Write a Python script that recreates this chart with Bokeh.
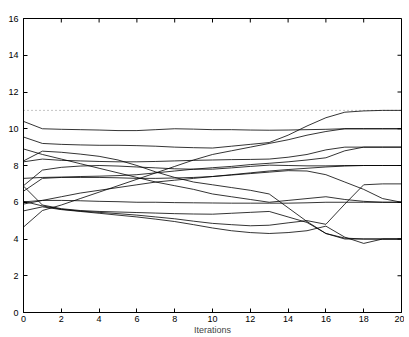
import math
from bokeh.plotting import figure
from bokeh.models import Range1d, FixedTicker
from bokeh.embed import file_html
from bokeh.resources import INLINE

iterations = list(range(21))

series_a = [10.4, 10.0, 9.97, 9.95, 9.93, 9.9, 9.9, 9.95, 10.0, 9.98, 9.95, 9.95, 9.93, 9.92, 9.93, 9.95, 9.97, 10.0, 10.0, 10.0, 10.0]
series_b = [9.55, 9.2, 9.15, 9.12, 9.1, 9.1, 9.08, 9.05, 9.0, 8.97, 8.95, 9.05, 9.15, 9.25, 9.65, 10.15, 10.6, 10.9, 10.97, 11.0, 11.0]
series_c = [8.9, 8.6, 8.35, 8.1, 7.85, 7.6, 7.35, 7.1, 6.9, 6.7, 6.45, 6.3, 6.15, 6.0, 6.1, 6.2, 6.3, 6.15, 6.05, 6.0, 6.0]
series_d = [8.25, 8.78, 8.72, 8.62, 8.5, 8.3, 8.0, 7.65, 7.35, 7.1, 6.95, 6.8, 6.65, 6.45, 5.7, 4.95, 4.3, 4.0, 4.0, 4.0, 4.0]
series_e = [8.2, 8.35, 8.28, 8.25, 8.22, 8.2, 8.2, 8.22, 8.25, 8.28, 8.3, 8.32, 8.33, 8.35, 8.45, 8.6, 8.85, 9.0, 9.0, 9.0, 9.0]
series_f = [7.3, 7.35, 7.37, 7.4, 7.42, 7.45, 7.5, 7.6, 7.7, 7.8, 7.88, 7.95, 8.05, 8.12, 8.2, 8.3, 8.42, 8.8, 9.0, 9.0, 9.0]
series_g = [6.9, 7.75, 7.9, 7.97, 8.0, 7.97, 7.92, 7.87, 7.82, 7.8, 7.8, 7.87, 7.95, 8.02, 8.0, 7.98, 7.98, 8.0, 8.0, 8.0, 8.0]
series_i = [6.6, 7.3, 7.35, 7.35, 7.35, 7.33, 7.3, 7.3, 7.32, 7.35, 7.4, 7.48, 7.56, 7.64, 7.72, 7.7, 7.5, 7.1, 6.7, 6.2, 6.0]
series_k = [5.9, 6.1, 6.3, 6.5, 6.65, 6.8, 6.95, 7.1, 7.2, 7.3, 7.4, 7.5, 7.6, 7.7, 7.78, 7.85, 7.92, 7.97, 8.0, 8.0, 8.0]
series_j = [6.02, 6.1, 6.1, 6.08, 6.05, 6.03, 6.0, 6.0, 5.98, 5.97, 5.96, 5.95, 5.95, 5.95, 5.95, 5.97, 6.0, 6.0, 6.0, 6.0, 6.0]
series_h = [6.88, 5.85, 5.65, 5.55, 5.5, 5.47, 5.44, 5.41, 5.38, 5.36, 5.35, 5.4, 5.45, 5.5, 5.2, 4.9, 4.3, 4.05, 4.0, 4.0, 4.0]
series_l = [6.05, 5.8, 5.62, 5.52, 5.45, 5.38, 5.3, 5.2, 5.1, 4.97, 4.85, 4.78, 4.72, 4.75, 4.88, 5.0, 4.8, 5.9, 6.95, 7.0, 7.0]
series_m = [5.53, 5.75, 5.6, 5.5, 5.4, 5.3, 5.2, 5.08, 4.95, 4.78, 4.6, 4.45, 4.35, 4.3, 4.35, 4.45, 4.7, 4.1, 3.76, 4.0, 4.0]
series_r = [4.65, 5.55, 5.85, 6.2, 6.55, 6.9, 7.25, 7.6, 7.95, 8.3, 8.6, 8.8, 9.0, 9.2, 9.4, 9.65, 9.85, 10.0, 10.0, 10.0, 10.0]

all_series = [series_a, series_b, series_c, series_d, series_e, series_f, series_g,
              series_i, series_k, series_j, series_h, series_l, series_m, series_r]

ref_x = [0, 20]
ref_y = [11, 11]

x_ticks = [0, 2, 4, 6, 8, 10, 12, 14, 16, 18, 20]
y_ticks = [0, 2, 4, 6, 8, 10, 12, 14, 16]
x_min, x_max = 0, 20
y_min, y_max = 0, 16

FONT = "Liberation Sans"

p = figure(width=404, height=337, output_backend="svg", toolbar_location=None,
           x_range=Range1d(x_min, x_max), y_range=Range1d(y_min, y_max),
           min_border_left=23, min_border_right=3, min_border_top=18, min_border_bottom=0)
p.background_fill_color = "white"
p.border_fill_color = "white"
p.grid.visible = False
p.outline_line_color = "black"
p.outline_line_width = 1

for ax in p.xaxis + p.yaxis:
    ax.major_tick_in = 4
    ax.major_tick_out = 0
    ax.minor_tick_line_color = None
    ax.axis_line_color = "black"
    ax.major_label_text_font = FONT
    ax.major_label_text_font_size = "9px"
    ax.major_label_text_color = "black"
p.yaxis.major_label_standoff = 5
p.xaxis.major_label_standoff = 3
p.xaxis.ticker = FixedTicker(ticks=x_ticks)
p.yaxis.ticker = FixedTicker(ticks=y_ticks)
p.xaxis.axis_label = "Iterations"
p.xaxis.axis_label_text_font = FONT
p.xaxis.axis_label_text_font_size = "9px"
p.xaxis.axis_label_text_font_style = "normal"
p.xaxis.axis_label_standoff = 0

# inward tick marks on the top and right edges
p.ray(x=x_ticks, y=[y_max] * len(x_ticks), length=4, length_units="screen",
      angle=-math.pi / 2, line_color="black", line_width=1)
p.ray(x=[x_max] * len(y_ticks), y=y_ticks, length=4, length_units="screen",
      angle=math.pi, line_color="black", line_width=1)

p.line(ref_x, ref_y, line_color="#888888", line_dash="1 3", line_width=1)
for s in all_series:
    p.line(iterations, s, line_color="black", line_width=0.8)

open("out.html", "w").write(file_html(p, INLINE))
